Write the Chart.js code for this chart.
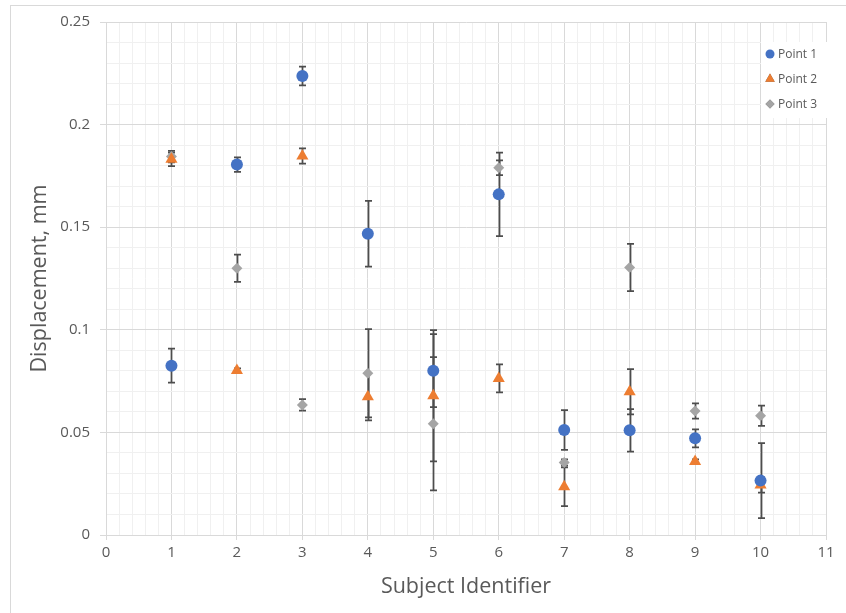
<!DOCTYPE html>
<html>
<head>
<meta charset="utf-8">
<script src="https://cdn.jsdelivr.net/npm/chart.js@4.4.1/dist/chart.umd.min.js"></script>
<style>
  html, body { margin: 0; padding: 0; background: #ffffff; }
  #wrap { width: 846px; height: 613px; }
</style>
</head>
<body>
<div id="wrap"><canvas id="chart" width="846" height="613"></canvas></div>
<script>
// subject ids and measured displacements (mm) with their error half-widths
const subjects = [1, 2, 3, 4, 5, 6, 7, 8, 9, 10];
const point1 = [0.0825, 0.1805, 0.2237, 0.1468, 0.0801, 0.1660, 0.0512, 0.0510, 0.0471, 0.0265];
const point1Err = [0.0083, 0.0035, 0.0046, 0.0160, 0.0178, 0.0203, 0.0097, 0.0104, 0.0044, 0.0183];
const point2 = [0.1831, 0.0802, 0.1847, 0.0674, 0.0679, 0.0763, 0.0235, 0.0698, 0.0358, 0.0244];
const point2Err = [0.0033, 0.0010, 0.0037, 0.0115, 0.0320, 0.0068, 0.0094, 0.0110, 0.0010, 0.0037];
const point3 = [0.1844, 0.1300, 0.0634, 0.0788, 0.0542, 0.1790, 0.0353, 0.1304, 0.0604, 0.0581];
const point3Err = [0.0028, 0.0066, 0.0028, 0.0215, 0.0325, 0.0036, 0.0015, 0.0115, 0.0037, 0.0049];
const seriesNames = ['Point 1', 'Point 2', 'Point 3'];

const FONT = "'Open Sans', Lato, sans-serif";
const TEXT = '#595959';

const toXY = (vals) => subjects.map((s, i) => ({ x: s, y: vals[i] }));

// outer frame of the chart box
const framePlugin = {
  id: 'frame',
  beforeDraw(chart) {
    const ctx = chart.ctx;
    ctx.save();
    ctx.fillStyle = '#ffffff';
    ctx.fillRect(0, 0, chart.width, chart.height);
    ctx.strokeStyle = '#d9d9d9';
    ctx.lineWidth = 1;
    ctx.strokeRect(10.5, 5.5, chart.width, chart.height);
    ctx.restore();
  }
};

// vertical error bars with caps, drawn under the markers
const errorBarPlugin = {
  id: 'errorBars',
  beforeDatasetsDraw(chart) {
    const ctx = chart.ctx;
    const xs = chart.scales.x;
    const ys = chart.scales.y;
    ctx.save();
    ctx.strokeStyle = '#4d4d4d';
    ctx.lineWidth = 1.75;
    chart.data.datasets.forEach((ds) => {
      ds.data.forEach((p, i) => {
        const e = ds.errors[i];
        const px = Math.round(xs.getPixelForValue(p.x)) + 0.5;
        const top = ys.getPixelForValue(p.y + e);
        const bot = ys.getPixelForValue(p.y - e);
        ctx.beginPath();
        ctx.moveTo(px, top);
        ctx.lineTo(px, bot);
        ctx.moveTo(px - 3.5, top);
        ctx.lineTo(px + 3.5, top);
        ctx.moveTo(px - 3.5, bot);
        ctx.lineTo(px + 3.5, bot);
        ctx.stroke();
      });
    });
    ctx.restore();
  }
};

// legend box in the upper right corner of the plot
const legendPlugin = {
  id: 'boxLegend',
  afterDraw(chart) {
    const ctx = chart.ctx;
    const x0 = 761, y0 = 42;
    ctx.save();
    ctx.fillStyle = '#ffffff';
    ctx.fillRect(x0, y0, 80, 76);
    ctx.font = '12px ' + FONT;
    ctx.textBaseline = 'middle';
    chart.data.datasets.forEach((ds, i) => {
      const cy = 54 + i * 25;
      Chart.helpers.drawPoint(ctx, {
        pointStyle: ds.pointStyle,
        radius: ds.legendRadius,
        borderWidth: 0
      }, 770, cy);
      ctx.fillStyle = ds.backgroundColor;
      ctx.fill();
      ctx.fillStyle = TEXT;
      ctx.fillText(ds.label, 778, cy + 1);
    });
    ctx.restore();
  }
};

const isMajorY = (v) => Math.round(v * 100) % 5 === 0;
const isMajorX = (v) => Math.abs(v - Math.round(v)) < 1e-6;

new Chart(document.getElementById('chart'), {
  type: 'scatter',
  data: {
    datasets: [
      {
        label: seriesNames[0],
        data: toXY(point1),
        errors: point1Err,
        pointStyle: 'circle',
        pointRadius: 6,
        legendRadius: 4.5,
        backgroundColor: '#4472c4',
        borderColor: '#4472c4',
        borderWidth: 0
      },
      {
        label: seriesNames[1],
        data: toXY(point2),
        errors: point2Err,
        pointStyle: 'triangle',
        pointRadius: 7,
        legendRadius: 5.5,
        backgroundColor: '#ed7d31',
        borderColor: '#ed7d31',
        borderWidth: 0
      },
      {
        label: seriesNames[2],
        data: toXY(point3),
        errors: point3Err,
        pointStyle: 'rectRot',
        pointRadius: 5.5,
        legendRadius: 4.5,
        backgroundColor: '#a5a5a5',
        borderColor: '#a5a5a5',
        borderWidth: 0
      }
    ]
  },
  options: {
    responsive: false,
    animation: false,
    devicePixelRatio: 1,
    layout: { padding: { left: 0, top: 22, right: 20, bottom: 0 } },
    plugins: {
      legend: { display: false },
      tooltip: { enabled: false }
    },
    scales: {
      x: {
        type: 'linear',
        min: 0,
        max: 11,
        afterFit: (scale) => { scale.height = 78; },
        border: { color: '#d9d9d9', width: 1 },
        grid: {
          color: (c) => (isMajorX(c.tick.value) ? '#d9d9d9' : '#f0f0f0'),
          tickColor: (c) => (isMajorX(c.tick.value) ? '#d9d9d9' : 'rgba(0,0,0,0)'),
          tickLength: 5
        },
        ticks: {
          stepSize: 0.2,
          autoSkip: false,
          maxRotation: 0,
          padding: 4,
          color: TEXT,
          font: { family: FONT, size: 15 },
          callback: (v) => (isMajorX(v) ? String(Math.round(v)) : '')
        },
        title: {
          display: true,
          text: 'Subject Identifier',
          color: TEXT,
          font: { family: FONT, size: 21.5 },
          padding: { top: 0, bottom: 13 }
        }
      },
      y: {
        type: 'linear',
        min: 0,
        max: 0.25,
        afterFit: (scale) => { scale.width = 106; },
        border: { color: '#d9d9d9', width: 1 },
        grid: {
          color: (c) => (isMajorY(c.tick.value) ? '#d9d9d9' : '#f0f0f0'),
          tickColor: (c) => (isMajorY(c.tick.value) ? '#d9d9d9' : 'rgba(0,0,0,0)'),
          tickLength: 6
        },
        ticks: {
          stepSize: 0.01,
          autoSkip: false,
          padding: 10,
          color: TEXT,
          font: { family: FONT, size: 15 },
          callback: (v) => (isMajorY(v) ? String(Math.round(v * 100) / 100) : '')
        },
        title: {
          display: true,
          text: 'Displacement, mm',
          color: TEXT,
          font: { family: FONT, size: 21.5 },
          padding: { top: 27, bottom: 0 }
        }
      }
    }
  },
  plugins: [framePlugin, errorBarPlugin, legendPlugin]
});
</script>
</body>
</html>
